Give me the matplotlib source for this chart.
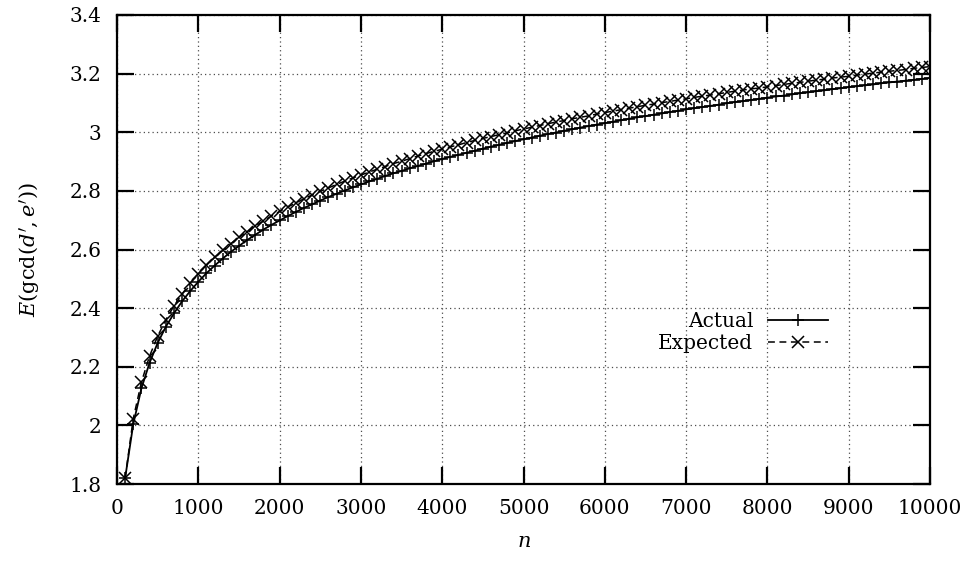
import matplotlib
matplotlib.use("Agg")
import matplotlib.pyplot as plt

plt.rcParams['font.family'] = ['DejaVu Serif']
plt.rcParams['mathtext.fontset'] = 'dejavuserif'

n_values = list(range(100, 10001, 100))

actual = [
    1.820, 2.004, 2.126, 2.213, 2.281, 2.336, 2.382, 2.423, 2.458, 2.490,
    2.519, 2.545, 2.569, 2.592, 2.612, 2.632, 2.650, 2.668, 2.684, 2.699,
    2.714, 2.728, 2.742, 2.754, 2.767, 2.779, 2.790, 2.801, 2.812, 2.822,
    2.832, 2.841, 2.851, 2.860, 2.868, 2.877, 2.885, 2.893, 2.901, 2.909,
    2.916, 2.923, 2.930, 2.937, 2.944, 2.951, 2.957, 2.964, 2.970, 2.976,
    2.982, 2.988, 2.994, 2.999, 3.005, 3.010, 3.016, 3.021, 3.026, 3.031,
    3.036, 3.041, 3.046, 3.051, 3.055, 3.060, 3.064, 3.069, 3.073, 3.078,
    3.082, 3.086, 3.090, 3.094, 3.099, 3.103, 3.106, 3.110, 3.114, 3.118,
    3.122, 3.125, 3.129, 3.133, 3.136, 3.140, 3.143, 3.147, 3.150, 3.154,
    3.157, 3.160, 3.163, 3.167, 3.170, 3.173, 3.176, 3.179, 3.182, 3.185,
]

expected = [
    1.820, 2.023, 2.147, 2.236, 2.304, 2.360, 2.407, 2.448, 2.485, 2.517,
    2.546, 2.573, 2.597, 2.620, 2.641, 2.661, 2.680, 2.697, 2.714, 2.730,
    2.745, 2.759, 2.773, 2.786, 2.798, 2.810, 2.822, 2.833, 2.844, 2.854,
    2.864, 2.874, 2.883, 2.893, 2.901, 2.910, 2.919, 2.927, 2.935, 2.942,
    2.950, 2.957, 2.965, 2.972, 2.979, 2.985, 2.992, 2.998, 3.005, 3.011,
    3.017, 3.023, 3.029, 3.035, 3.040, 3.046, 3.051, 3.056, 3.062, 3.067,
    3.072, 3.077, 3.082, 3.087, 3.092, 3.096, 3.101, 3.105, 3.110, 3.114,
    3.119, 3.123, 3.127, 3.131, 3.136, 3.140, 3.144, 3.148, 3.151, 3.155,
    3.159, 3.163, 3.167, 3.170, 3.174, 3.178, 3.181, 3.185, 3.188, 3.191,
    3.195, 3.198, 3.202, 3.205, 3.208, 3.211, 3.214, 3.218, 3.221, 3.224,
]

x_ticks = [0, 1000, 2000, 3000, 4000, 5000, 6000, 7000, 8000, 9000, 10000]
y_ticks = [1.8, 2.0, 2.2, 2.4, 2.6, 2.8, 3.0, 3.2, 3.4]
y_ticklabels = ["1.8", "2", "2.2", "2.4", "2.6", "2.8", "3", "3.2", "3.4"]

fig = plt.figure(figsize=(9.66, 5.61), dpi=100)
ax = fig.add_axes([117/966, 1 - 484/561, (930-117)/966, (484-15)/561])

ax.plot(n_values, actual, color='black', linestyle='-', linewidth=1.3,
        marker='+', markersize=9, markeredgewidth=1.1, label='Actual')
ax.plot(n_values, expected, color='black', linestyle=(0, (4.5, 3)), linewidth=1.1,
        marker='x', markersize=8, markeredgewidth=1.1, label='Expected')

ax.set_xlim(0, 10000)
ax.set_ylim(1.8, 3.4)
ax.set_xticks(x_ticks)
ax.set_xticklabels([str(v) for v in x_ticks])
ax.set_yticks(y_ticks)
ax.set_yticklabels(y_ticklabels)

ax.tick_params(direction='in', length=12.5, width=1.6, labelsize=14.5,
               top=True, right=True, pad=11)
ax.tick_params(axis='x', pad=11)
for s in ax.spines.values():
    s.set_linewidth(1.6)

ax.grid(True, color='0.3', linestyle=(0, (1, 2.5)), linewidth=0.9)
ax.set_axisbelow(True)

ax.set_xlabel(r'$n$', fontsize=15, labelpad=10)
ax.set_ylabel(r"$E(\mathrm{gcd}(d',e'))$", fontsize=15, labelpad=19)

leg = ax.legend(loc='center right', bbox_to_anchor=(0.8745, 0.323),
                frameon=False, markerfirst=False, fontsize=14.5,
                handlelength=3.0, handletextpad=0.7, labelspacing=0.15,
                borderpad=0, borderaxespad=0)
for col in leg._legend_box.get_children()[1].get_children():
    col.align = 'right'

fig.savefig('out.png', dpi=100)
